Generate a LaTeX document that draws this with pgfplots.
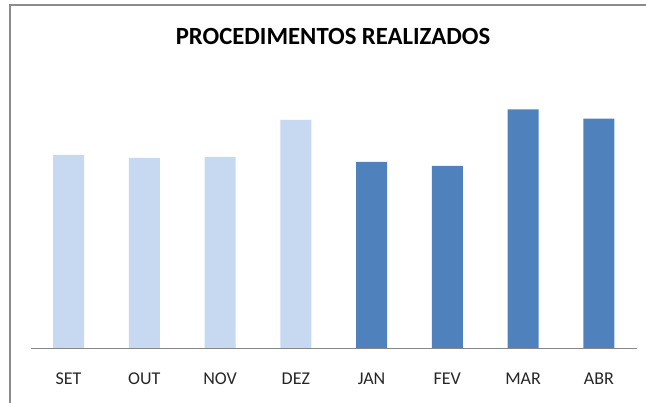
\documentclass[border=0pt]{standalone}
\usepackage{pgfplots}
\pgfplotsset{compat=1.18}
\usepackage{fontspec}
\setmainfont{Carlito}
\definecolor{lightbar}{HTML}{C6D9F1}
\definecolor{darkbar}{HTML}{4F81BD}
\definecolor{framegray}{HTML}{8C8C8C}
\definecolor{axisgray}{HTML}{868686}
\begin{document}
\begin{tikzpicture}[x=1pt,y=1pt]
\path[use as bounding box] (0,0) rectangle (646,403);
\begin{axis}[
  at={(30.7pt,55pt)}, anchor=south west,
  scale only axis, width=606pt, height=268pt,
  xmin=-0.5, xmax=7.5, ymin=0, ymax=268,
  axis x line*=bottom, axis y line=none,
  x axis line style={axisgray, line width=0.9pt, -},
  xtick={0,1,2,3,4,5,6,7},
  xticklabels={SET,OUT,NOV,DEZ,JAN,FEV,MAR,ABR},
  major tick length=0pt,
  xticklabel style={anchor=base, yshift=-37pt, text=black!85, font=\fontsize{18}{20}\selectfont},
  ybar, bar width=31pt, bar shift=0pt,
  clip=false,
]
\addplot[fill=lightbar, draw=none] coordinates {(0,193) (1,190) (2,191) (3,228)};
\addplot[fill=darkbar, draw=none] coordinates {(4,186) (5,182) (6,238.7) (7,229.3)};
\end{axis}
\node[anchor=base, font=\fontsize{24.7}{28}\selectfont\bfseries] at (333,358) {PROCEDIMENTOS REALIZADOS};
\draw[framegray, line width=2pt] (10,0) -- (10,397.5) -- (646,397.5);
\end{tikzpicture}
\end{document}
